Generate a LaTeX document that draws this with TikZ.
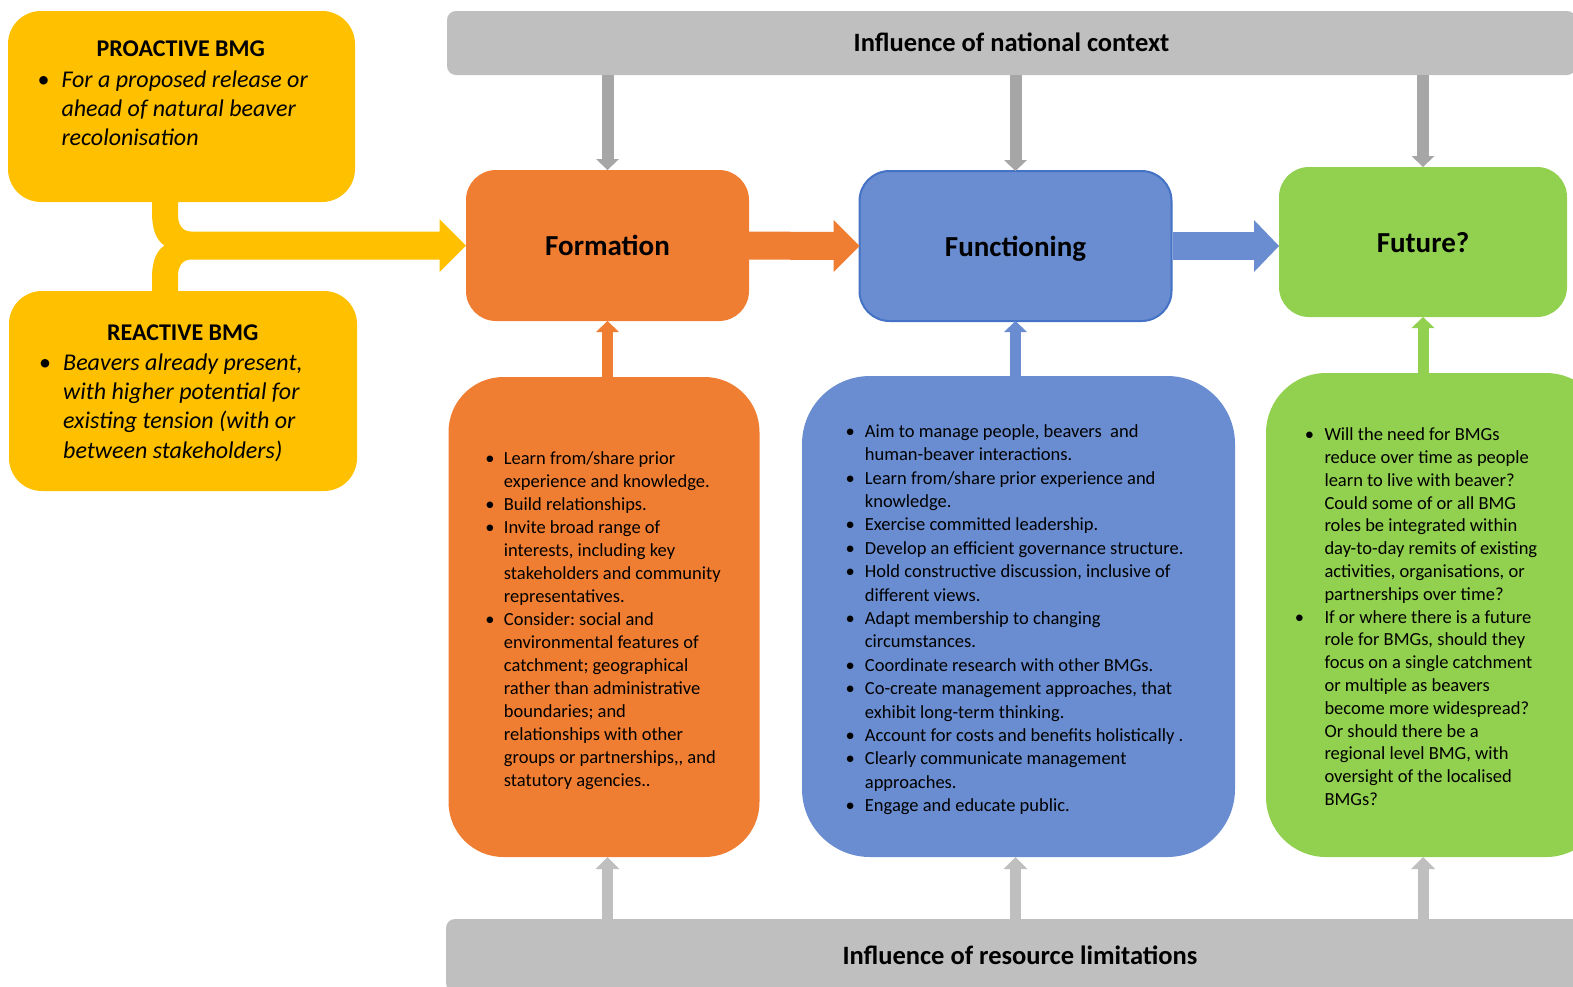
\documentclass[tikz,border=0pt]{standalone}
\usepackage{fontspec}
\setmainfont{Carlito}
\usetikzlibrary{calc}
\definecolor{yel}{HTML}{FFC000}
\definecolor{org}{HTML}{F07E32}
\definecolor{blu}{HTML}{698DD0}
\definecolor{bluedge}{HTML}{4472C4}
\definecolor{grn}{HTML}{92D050}
\definecolor{barc}{HTML}{BFBFBF}
\definecolor{darr}{HTML}{A6A6A6}
\newcommand\bl[1]{\makebox[#1][l]{\makebox[0pt]{\upshape\textbullet}}}
\frenchspacing
\begin{document}
\frenchspacing
\begin{tikzpicture}[x=1pt,y=-1pt,
  box/.style={inner sep=0pt, outer sep=0pt, anchor=center},
  mainbox/.style={box, rounded corners=30pt, font=\fontsize{29}{34}\selectfont\bfseries, text height=20pt, text depth=0pt},
  bartext/.style={box, rounded corners=9pt, fill=barc, font=\fontsize{26.5}{30}\selectfont\bfseries, text height=17pt, text depth=0pt},
  ytitle/.style={inner sep=0pt, anchor=base, font=\fontsize{24}{29}\selectfont\bfseries},
  ylist/.style={inner sep=0pt, anchor=base west, font=\fontsize{24}{29.1}\selectfont\itshape},
  dlist/.style={inner sep=0pt, anchor=base west, font=\fontsize{18.5}{#1}\selectfont},
  gshaft/.style={draw=darr, line width=12pt},
  lshaft/.style={draw=barc, line width=11pt},
  cshaft/.style={line width=11pt},
  hshaft/.style={line width=28pt}
]
\useasboundingbox (0,0) rectangle (1573,986);
\clip (0,0) rectangle (1573,986);

% bars
\node[bartext, minimum width=1129pt, minimum height=64pt] (nat) at (1011.5,43) {Influence of national context};
\node[bartext, minimum width=1148pt, minimum height=73pt] (res) at (1020,955.5) {Influence of resource limitations};

% yellow boxes
\node[box, fill=yel, rounded corners=33pt, minimum width=347pt, minimum height=191pt] (pro) at (181.5,106.5) {};
\node[box, fill=yel, rounded corners=33pt, minimum width=348pt, minimum height=200pt] (rea) at (183,391) {};

% main boxes
\node[mainbox, fill=org, minimum width=283pt, minimum height=151pt] (form) at (607.5,245.5) {Formation};
\node[mainbox, fill=blu, draw=bluedge, line width=2pt, minimum width=312pt, minimum height=150pt] (func) at (1015.5,246) {Functioning};
\node[mainbox, fill=grn, minimum width=288pt, minimum height=150pt] (fut) at (1423,242) {Future?};

% detail boxes
\node[box, fill=org, rounded corners=55pt, minimum width=311pt, minimum height=480pt] (fdet) at (604,617) {};
\node[box, fill=blu, rounded corners=68pt, minimum width=433pt, minimum height=481pt] (ndet) at (1018.5,616.5) {};
\node[box, fill=grn, rounded corners=60pt, minimum width=340pt, minimum height=484pt] (udet) at (1436,615) {};

% yellow connector
\fill[yel] (152,195) -- (152,212) .. controls (152,233) and (158,241) .. (164.5,245.5)
  .. controls (158,250) and (152,258) .. (152,278) -- (152,296) -- (178,296) -- (178,276)
  .. controls (178,267) and (182,259.5) .. (191,259.5) -- (439.5,259.5) -- (439.5,272)
  -- (form.west) -- (439.5,219) -- (439.5,231.5) -- (191,231.5)
  .. controls (182,231.5) and (178,224) .. (178,215) -- (178,195) -- cycle;

% yellow texts
\node[ytitle] (protitle) at (180.8,56) {PROACTIVE BMG};
\node[ylist] (protext) at (43.3,87.3) {\begin{tabular}[t]{@{}l@{}l@{}}
\bl{18pt} & For a proposed release or\\
 & ahead of natural beaver\\
 & recolonisation
\end{tabular}};
\node[ytitle] (reatitle) at (182.8,340) {REACTIVE BMG};
\node[ylist] (reatext) at (45,370.7) {\begin{tabular}[t]{@{}l@{}l@{}}
\bl{18pt} & Beavers already present,\\
 & with higher potential for\\
 & existing tension (with or\\
 & between stakeholders)
\end{tabular}};

% horizontal arrows
\draw[hshaft, org] ($(form.east)+(-1,0)$) -- ($(func.west)+(-24,0)$);
\fill[org] (func.west) -- ++(-26,-26) -- ++(0,52) -- cycle;
\draw[hshaft, blu] ($(func.east)+(1,0)$) -- ($(func.east -| fut.west)+(-23,0)$);
\fill[blu] (func.east -| fut.west) -- ++(-25,-26) -- ++(0,52) -- cycle;

% top gray arrows
\foreach \b in {form,func,fut}{
  \draw[gshaft] (nat.south -| \b.north) -- ($(\b.north)+(0,-10)$);
  \fill[darr] (\b.north) -- ++(-11.5,-11) -- ++(23,0) -- cycle;
}

% colored up arrows
\draw[cshaft, org] (fdet.north -| form.south) -- ($(form.south)+(0,10)$);
\fill[org] (form.south) -- ++(-11.5,11) -- ++(23,0) -- cycle;
\draw[cshaft, blu] (ndet.north -| func.south) -- ($(func.south)+(0,10)$);
\fill[blu] (func.south) -- ++(-11.5,11) -- ++(23,0) -- cycle;
\draw[cshaft, grn] (udet.north -| fut.south) -- ($(fut.south)+(0,10)$);
\fill[grn] (fut.south) -- ++(-11.5,11) -- ++(23,0) -- cycle;

% bottom gray arrows
\draw[lshaft] (res.north -| form.south) -- ($(fdet.south -| form.south)+(0,11)$);
\fill[barc] (fdet.south -| form.south) -- ++(-12,12) -- ++(24,0) -- cycle;
\draw[lshaft] (res.north -| func.south) -- ($(ndet.south -| func.south)+(0,11)$);
\fill[barc] (ndet.south -| func.south) -- ++(-12,12) -- ++(24,0) -- cycle;
\draw[lshaft] (res.north -| fut.south) -- ($(udet.south -| fut.south)+(0,11)$);
\fill[barc] (udet.south -| fut.south) -- ++(-12,12) -- ++(24,0) -- cycle;

% detail texts
\node[dlist=23] (ftext) at (489.7,464) {\begin{tabular}[t]{@{}l@{}l@{}}
\bl{14pt} & Learn from/share prior\\
 & experience and knowledge.\\
\bl{14pt} & Build relationships.\\
\bl{14pt} & Invite broad range of\\
 & interests, including key\\
 & stakeholders and community\\
 & representatives.\\
\bl{14pt} & Consider: social and\\
 & environmental features of\\
 & catchment; geographical\\
 & rather than administrative\\
 & boundaries; and\\
 & relationships with other\\
 & groups or partnerships,{}, and\\
 & statutory agencies..
\end{tabular}};

\node[dlist=23.4] (ntext) at (850,437.3) {\begin{tabular}[t]{@{}l@{}l@{}}
\bl{14.7pt} & Aim to manage people, beavers\ \ and\\
 & human-beaver interactions.\\
\bl{14.7pt} & Learn from/share prior experience and\\
 & knowledge.\\
\bl{14.7pt} & Exercise committed leadership.\\
\bl{14.7pt} & Develop an efficient governance structure.\\
\bl{14.7pt} & Hold constructive discussion, inclusive of\\
 & different views.\\
\bl{14.7pt} & Adapt membership to changing\\
 & circumstances.\\
\bl{14.7pt} & Coordinate research with other BMGs.\\
\bl{14.7pt} & Co-create management approaches, that\\
 & exhibit long-term thinking.\\
\bl{14.7pt} & Account for costs and benefits holistically .\\
\bl{14.7pt} & Clearly communicate management\\
 & approaches.\\
\bl{14.7pt} & Engage and educate public.
\end{tabular}};

\node[dlist=22.8] (utext) at (1309.3,440.7) {\begin{tabular}[t]{@{}l@{}l@{}}
\bl{15pt} & Will the need for BMGs\\
 & reduce over time as people\\
 & learn to live with beaver?\\
 & Could some of or all BMG\\
 & roles be integrated within\\
 & day-to-day remits of existing\\
 & activities, organisations, or\\
 & partnerships over time?\\
\makebox[15pt][l]{\hspace*{-10pt}\makebox[0pt]{\textbullet}} & If or where there is a future\\
 & role for BMGs, should they\\
 & focus on a single catchment\\
 & or multiple as beavers\\
 & become more widespread?\\
 & Or should there be a\\
 & regional level BMG, with\\
 & oversight of the localised\\
 & BMGs?
\end{tabular}};
\end{tikzpicture}
\end{document}
